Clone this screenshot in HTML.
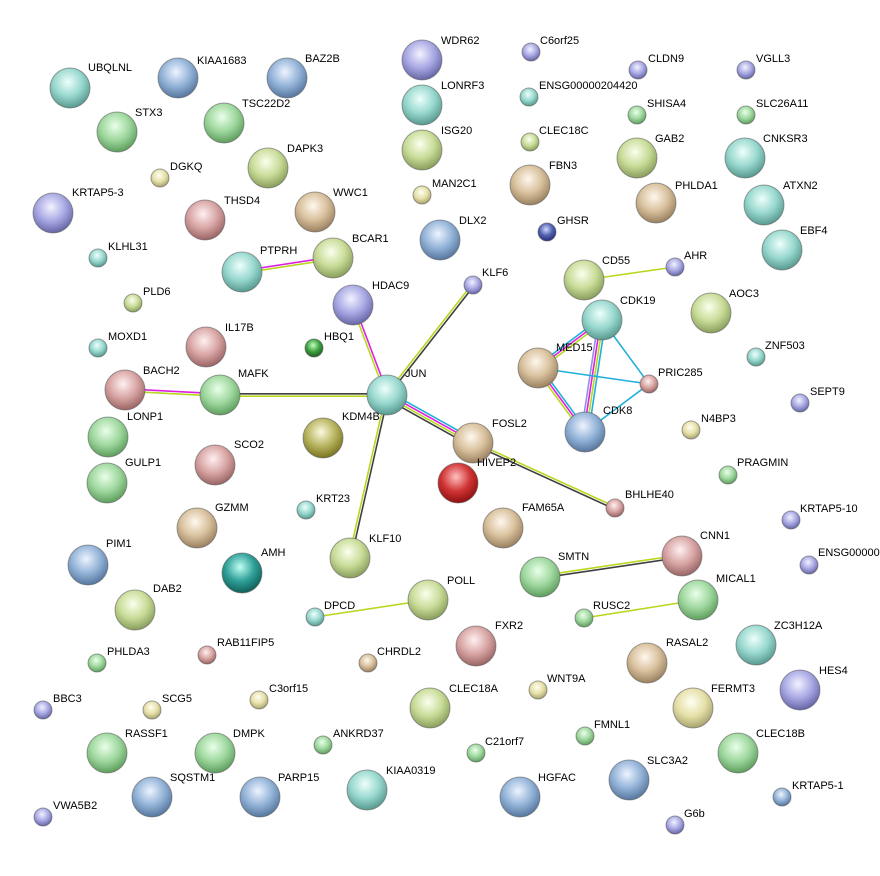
<!DOCTYPE html>
<html><head><meta charset="utf-8"><style>
body{margin:0;background:#fff}
svg text{font-family:"Liberation Sans",Arial,sans-serif;font-size:11px;fill:#000;stroke:none}
</style></head><body>
<svg id="s" width="880" height="871" viewBox="0 0 880 871" xmlns="http://www.w3.org/2000/svg">
<defs>
<radialGradient id="g" cx="45%" cy="35%" r="65%"><stop offset="0" stop-color="#eaffea"/><stop offset=".55" stop-color="#9fd89f"/><stop offset="1" stop-color="#5e9e5e"/></radialGradient>
<radialGradient id="b" cx="45%" cy="35%" r="65%"><stop offset="0" stop-color="#eef4ff"/><stop offset=".55" stop-color="#93b3d8"/><stop offset="1" stop-color="#56769e"/></radialGradient>
<radialGradient id="p" cx="45%" cy="35%" r="65%"><stop offset="0" stop-color="#f2f2ff"/><stop offset=".55" stop-color="#a8a8e4"/><stop offset="1" stop-color="#6666a6"/></radialGradient>
<radialGradient id="t" cx="45%" cy="35%" r="65%"><stop offset="0" stop-color="#eefffc"/><stop offset=".55" stop-color="#98d8ce"/><stop offset="1" stop-color="#589a90"/></radialGradient>
<radialGradient id="n" cx="45%" cy="35%" r="65%"><stop offset="0" stop-color="#fff8ee"/><stop offset=".55" stop-color="#d8c09c"/><stop offset="1" stop-color="#9a8060"/></radialGradient>
<radialGradient id="k" cx="45%" cy="35%" r="65%"><stop offset="0" stop-color="#fff0f0"/><stop offset=".55" stop-color="#d8a4a4"/><stop offset="1" stop-color="#9a6464"/></radialGradient>
<radialGradient id="y" cx="45%" cy="35%" r="65%"><stop offset="0" stop-color="#fbffee"/><stop offset=".55" stop-color="#c8dc98"/><stop offset="1" stop-color="#8a9e5c"/></radialGradient>
<radialGradient id="o" cx="45%" cy="35%" r="65%"><stop offset="0" stop-color="#fbfbe0"/><stop offset=".55" stop-color="#b8b460"/><stop offset="1" stop-color="#787420"/></radialGradient>
<radialGradient id="r" cx="45%" cy="35%" r="65%"><stop offset="0" stop-color="#ffc0c0"/><stop offset=".55" stop-color="#d03434"/><stop offset="1" stop-color="#901010"/></radialGradient>
<radialGradient id="d" cx="45%" cy="35%" r="65%"><stop offset="0" stop-color="#d0d8ff"/><stop offset=".55" stop-color="#5060b0"/><stop offset="1" stop-color="#283078"/></radialGradient>
<radialGradient id="dg" cx="45%" cy="35%" r="65%"><stop offset="0" stop-color="#c0ffc0"/><stop offset=".55" stop-color="#40a040"/><stop offset="1" stop-color="#206020"/></radialGradient>
<radialGradient id="l" cx="45%" cy="35%" r="65%"><stop offset="0" stop-color="#fffff4"/><stop offset=".55" stop-color="#e6e0a8"/><stop offset="1" stop-color="#a8a270"/></radialGradient>
<radialGradient id="a" cx="45%" cy="35%" r="65%"><stop offset="0" stop-color="#c0fff4"/><stop offset=".55" stop-color="#30a098"/><stop offset="1" stop-color="#106058"/></radialGradient>
</defs>
<g id="e"></g>
<g stroke="#555" stroke-opacity=".55" stroke-width="1">
<circle cx="70" cy="88" r="20" fill="url(#t)"/><text x="88" y="71">UBQLNL</text>
<circle cx="178" cy="78" r="20" fill="url(#b)"/><text x="197" y="64">KIAA1683</text>
<circle cx="287" cy="78" r="20" fill="url(#b)"/><text x="305" y="62">BAZ2B</text>
<circle cx="422" cy="60" r="20" fill="url(#p)"/><text x="441" y="44">WDR62</text>
<circle cx="531" cy="52" r="9" fill="url(#p)"/><text x="540" y="44">C6orf25</text>
<circle cx="638" cy="70" r="9" fill="url(#p)"/><text x="648" y="62">CLDN9</text>
<circle cx="746" cy="70" r="9" fill="url(#p)"/><text x="756" y="62">VGLL3</text>
<circle cx="422" cy="105" r="20" fill="url(#t)"/><text x="441" y="89">LONRF3</text>
<circle cx="529" cy="97" r="9" fill="url(#t)"/><text x="539" y="89">ENSG00000204420</text>
<circle cx="117" cy="132" r="20" fill="url(#g)"/><text x="135" y="116">STX3</text>
<circle cx="224" cy="123" r="20" fill="url(#g)"/><text x="242" y="107">TSC22D2</text>
<circle cx="637" cy="115" r="9" fill="url(#g)"/><text x="647" y="107">SHISA4</text>
<circle cx="746" cy="115" r="9" fill="url(#g)"/><text x="756" y="107">SLC26A11</text>
<circle cx="422" cy="150" r="20" fill="url(#y)"/><text x="441" y="134">ISG20</text>
<circle cx="530" cy="142" r="9" fill="url(#y)"/><text x="539" y="134">CLEC18C</text>
<circle cx="637" cy="158" r="20" fill="url(#y)"/><text x="655" y="142">GAB2</text>
<circle cx="745" cy="158" r="20" fill="url(#t)"/><text x="763" y="142">CNKSR3</text>
<circle cx="268" cy="168" r="20" fill="url(#y)"/><text x="287" y="152">DAPK3</text>
<circle cx="160" cy="178" r="9" fill="url(#l)"/><text x="170" y="170">DGKQ</text>
<circle cx="422" cy="195" r="9" fill="url(#l)"/><text x="432" y="187">MAN2C1</text>
<circle cx="530" cy="185" r="20" fill="url(#n)"/><text x="549" y="169">FBN3</text>
<circle cx="656" cy="203" r="20" fill="url(#n)"/><text x="675" y="189">PHLDA1</text>
<circle cx="764" cy="205" r="20" fill="url(#t)"/><text x="783" y="189">ATXN2</text>
<circle cx="53" cy="213" r="20" fill="url(#p)"/><text x="72" y="196">KRTAP5-3</text>
<circle cx="205" cy="220" r="20" fill="url(#k)"/><text x="224" y="204">THSD4</text>
<circle cx="315" cy="212" r="20" fill="url(#n)"/><text x="333" y="196">WWC1</text>
<circle cx="440" cy="240" r="20" fill="url(#b)"/><text x="459" y="224">DLX2</text>
<circle cx="547" cy="232" r="9" fill="url(#d)"/><text x="557" y="224">GHSR</text>
<circle cx="782" cy="250" r="20" fill="url(#t)"/><text x="800" y="234">EBF4</text>
<circle cx="98" cy="258" r="9" fill="url(#t)"/><text x="108" y="250">KLHL31</text>
<circle cx="242" cy="272" r="20" fill="url(#t)"/><text x="260" y="254">PTPRH</text>
<circle cx="333" cy="258" r="20" fill="url(#y)"/><text x="352" y="242">BCAR1</text>
<circle cx="473" cy="285" r="9" fill="url(#p)"/><text x="482" y="276">KLF6</text>
<circle cx="584" cy="280" r="20" fill="url(#y)"/><text x="602" y="264">CD55</text>
<circle cx="675" cy="267" r="9" fill="url(#p)"/><text x="684" y="259">AHR</text>
<circle cx="133" cy="303" r="9" fill="url(#y)"/><text x="143" y="295">PLD6</text>
<circle cx="353" cy="305" r="20" fill="url(#p)"/><text x="372" y="289">HDAC9</text>
<circle cx="602" cy="320" r="20" fill="url(#t)"/><text x="620" y="304">CDK19</text>
<circle cx="711" cy="313" r="20" fill="url(#y)"/><text x="729" y="297">AOC3</text>
<circle cx="98" cy="348" r="9" fill="url(#t)"/><text x="108" y="340">MOXD1</text>
<circle cx="206" cy="347" r="20" fill="url(#k)"/><text x="225" y="331">IL17B</text>
<circle cx="314" cy="348" r="9" fill="url(#dg)"/><text x="324" y="340">HBQ1</text>
<circle cx="538" cy="368" r="20" fill="url(#n)"/><text x="556" y="351">MED15</text>
<circle cx="756" cy="357" r="9" fill="url(#t)"/><text x="765" y="349">ZNF503</text>
<circle cx="125" cy="390" r="20" fill="url(#k)"/><text x="143" y="374">BACH2</text>
<circle cx="220" cy="395" r="20" fill="url(#g)"/><text x="238" y="377">MAFK</text>
<circle cx="387" cy="395" r="20" fill="url(#t)"/><text x="405" y="377">JUN</text>
<circle cx="649" cy="384" r="9" fill="url(#k)"/><text x="658" y="376">PRIC285</text>
<circle cx="800" cy="403" r="9" fill="url(#p)"/><text x="810" y="395">SEPT9</text>
<circle cx="323" cy="438" r="20" fill="url(#o)"/><text x="342" y="420">KDM4B</text>
<circle cx="585" cy="432" r="20" fill="url(#b)"/><text x="603" y="414">CDK8</text>
<circle cx="691" cy="430" r="9" fill="url(#l)"/><text x="701" y="422">N4BP3</text>
<circle cx="108" cy="437" r="20" fill="url(#g)"/><text x="127" y="420">LONP1</text>
<circle cx="473" cy="443" r="20" fill="url(#n)"/><text x="492" y="427">FOSL2</text>
<circle cx="215" cy="465" r="20" fill="url(#k)"/><text x="234" y="448">SCO2</text>
<circle cx="458" cy="483" r="20" fill="url(#r)"/><text x="477" y="466">HIVEP2</text>
<circle cx="107" cy="483" r="20" fill="url(#g)"/><text x="125" y="466">GULP1</text>
<circle cx="728" cy="475" r="9" fill="url(#g)"/><text x="737" y="466">PRAGMIN</text>
<circle cx="615" cy="508" r="9" fill="url(#k)"/><text x="625" y="498">BHLHE40</text>
<circle cx="306" cy="510" r="9" fill="url(#t)"/><text x="316" y="502">KRT23</text>
<circle cx="791" cy="520" r="9" fill="url(#p)"/><text x="800" y="512">KRTAP5-10</text>
<circle cx="197" cy="528" r="20" fill="url(#n)"/><text x="215" y="511">GZMM</text>
<circle cx="503" cy="528" r="20" fill="url(#n)"/><text x="522" y="511">FAM65A</text>
<circle cx="88" cy="565" r="20" fill="url(#b)"/><text x="106" y="547">PIM1</text>
<circle cx="242" cy="573" r="20" fill="url(#a)"/><text x="261" y="556">AMH</text>
<circle cx="350" cy="558" r="20" fill="url(#y)"/><text x="369" y="542">KLF10</text>
<circle cx="682" cy="556" r="20" fill="url(#k)"/><text x="700" y="539">CNN1</text>
<circle cx="809" cy="565" r="9" fill="url(#p)"/><text x="818" y="556">ENSG00000</text>
<circle cx="540" cy="577" r="20" fill="url(#g)"/><text x="558" y="560">SMTN</text>
<circle cx="135" cy="610" r="20" fill="url(#y)"/><text x="153" y="592">DAB2</text>
<circle cx="428" cy="600" r="20" fill="url(#y)"/><text x="447" y="584">POLL</text>
<circle cx="698" cy="600" r="20" fill="url(#g)"/><text x="716" y="582">MICAL1</text>
<circle cx="315" cy="617" r="9" fill="url(#t)"/><text x="324" y="609">DPCD</text>
<circle cx="584" cy="618" r="9" fill="url(#g)"/><text x="593" y="609">RUSC2</text>
<circle cx="756" cy="645" r="20" fill="url(#t)"/><text x="774" y="629">ZC3H12A</text>
<circle cx="207" cy="655" r="9" fill="url(#k)"/><text x="217" y="646">RAB11FIP5</text>
<circle cx="97" cy="663" r="9" fill="url(#g)"/><text x="107" y="655">PHLDA3</text>
<circle cx="368" cy="663" r="9" fill="url(#n)"/><text x="377" y="655">CHRDL2</text>
<circle cx="476" cy="646" r="20" fill="url(#k)"/><text x="495" y="629">FXR2</text>
<circle cx="647" cy="663" r="20" fill="url(#n)"/><text x="666" y="646">RASAL2</text>
<circle cx="800" cy="690" r="20" fill="url(#p)"/><text x="819" y="674">HES4</text>
<circle cx="43" cy="710" r="9" fill="url(#p)"/><text x="53" y="702">BBC3</text>
<circle cx="152" cy="710" r="9" fill="url(#l)"/><text x="162" y="702">SCG5</text>
<circle cx="259" cy="700" r="9" fill="url(#l)"/><text x="269" y="692">C3orf15</text>
<circle cx="538" cy="690" r="9" fill="url(#l)"/><text x="547" y="682">WNT9A</text>
<circle cx="430" cy="708" r="20" fill="url(#y)"/><text x="449" y="692">CLEC18A</text>
<circle cx="693" cy="708" r="20" fill="url(#l)"/><text x="711" y="692">FERMT3</text>
<circle cx="323" cy="745" r="9" fill="url(#g)"/><text x="333" y="737">ANKRD37</text>
<circle cx="476" cy="753" r="9" fill="url(#g)"/><text x="485" y="745">C21orf7</text>
<circle cx="585" cy="736" r="9" fill="url(#g)"/><text x="594" y="728">FMNL1</text>
<circle cx="107" cy="753" r="20" fill="url(#g)"/><text x="125" y="737">RASSF1</text>
<circle cx="215" cy="753" r="20" fill="url(#g)"/><text x="233" y="737">DMPK</text>
<circle cx="738" cy="753" r="20" fill="url(#g)"/><text x="756" y="737">CLEC18B</text>
<circle cx="152" cy="797" r="20" fill="url(#b)"/><text x="170" y="781">SQSTM1</text>
<circle cx="260" cy="797" r="20" fill="url(#b)"/><text x="278" y="781">PARP15</text>
<circle cx="367" cy="790" r="20" fill="url(#t)"/><text x="386" y="774">KIAA0319</text>
<circle cx="520" cy="797" r="20" fill="url(#b)"/><text x="538" y="781">HGFAC</text>
<circle cx="629" cy="780" r="20" fill="url(#b)"/><text x="647" y="764">SLC3A2</text>
<circle cx="782" cy="797" r="9" fill="url(#b)"/><text x="792" y="789">KRTAP5-1</text>
<circle cx="675" cy="825" r="9" fill="url(#p)"/><text x="684" y="817">G6b</text>
<circle cx="43" cy="817" r="9" fill="url(#p)"/><text x="53" y="809">VWA5B2</text>
</g>
</svg>
<script>
var Y="#b8d820",M="#e020e0",K="#404040",B="#20b0d8",V="#9090f0";
var E=[
[242,272,333,258,[M,Y]],
[353,305,387,395,[M,Y]],
[473,285,387,395,[K,Y]],
[220,395,387,395,[K,Y]],
[125,390,220,395,[M,Y]],
[387,395,473,443,[B,M,Y,K]],
[387,395,350,558,[K,Y]],
[473,443,615,508,[Y,K]],
[584,280,675,267,[Y]],
[602,320,538,368,[Y,M,B]],
[602,320,585,432,[B,Y,M,V]],
[602,320,649,384,[B]],
[538,368,649,384,[B]],
[538,368,585,432,[B,M,Y]],
[585,432,649,384,[B]],
[682,556,540,577,[K,Y]],
[428,600,315,617,[Y]],
[698,600,584,618,[Y]]
];
var g=document.getElementById("e"),ns="http://www.w3.org/2000/svg";
E.forEach(function(e){var dx=e[2]-e[0],dy=e[3]-e[1],L=Math.hypot(dx,dy),px=-dy/L,py=dx/L,n=e[4].length;
e[4].forEach(function(c,i){var o=(i-(n-1)/2)*2.4,l=document.createElementNS(ns,"line");
l.setAttribute("x1",e[0]+px*o);l.setAttribute("y1",e[1]+py*o);l.setAttribute("x2",e[2]+px*o);l.setAttribute("y2",e[3]+py*o);
l.setAttribute("stroke",c);l.setAttribute("stroke-width","1.6");g.appendChild(l);});});
</script>
</body></html>
